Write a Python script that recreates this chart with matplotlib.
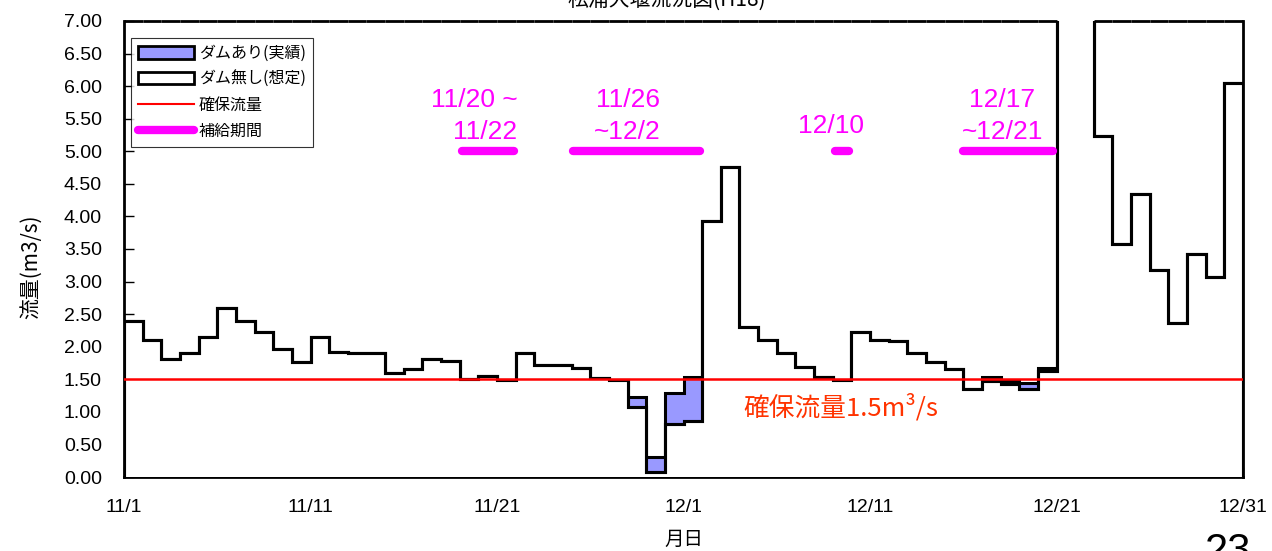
import matplotlib
matplotlib.use("Agg")
import matplotlib.pyplot as plt
from matplotlib.patches import Patch
from matplotlib.lines import Line2D
import numpy as np

plt.rcParams['font.family'] = ['Liberation Sans', 'Noto Sans CJK JP', 'DejaVu Sans']

# Daily flow 11/1 .. 12/30 (m3/s)
nashi = [2.40, 2.10, 1.81, 1.91, 2.15, 2.60, 2.40, 2.23, 1.96, 1.77,
         2.15, 1.92, 1.90, 1.90, 1.59, 1.66, 1.81, 1.78, 1.50, 1.55,
         1.49, 1.91, 1.72, 1.72, 1.67, 1.52, 1.49, 1.08, 0.07, 0.82,
         0.86, 3.93, 4.76, 2.30, 2.11, 1.91, 1.69, 1.54, 1.49, 2.22,
         2.11, 2.09, 1.90, 1.77, 1.66, 1.35, 1.47, 1.43, 1.35, 1.63,
         9.00, 8.00, 5.23, 3.58, 4.34, 3.17, 2.36, 3.43, 3.07, 6.05]
ari = [2.40, 2.10, 1.81, 1.91, 2.15, 2.60, 2.40, 2.23, 1.96, 1.77,
       2.15, 1.92, 1.90, 1.90, 1.59, 1.66, 1.81, 1.78, 1.50, 1.55,
       1.49, 1.91, 1.72, 1.72, 1.67, 1.52, 1.49, 1.23, 0.30, 1.29,
       1.54, 3.93, 4.76, 2.30, 2.11, 1.91, 1.69, 1.54, 1.49, 2.22,
       2.11, 2.09, 1.90, 1.77, 1.66, 1.35, 1.53, 1.48, 1.44, 1.67,
       9.00, 8.00, 5.23, 3.58, 4.34, 3.17, 2.36, 3.43, 3.07, 6.05]
kakuho = 1.5

xtick_labels = ['11/1', '11/11', '11/21', '12/1', '12/11', '12/21', '12/31']

# supply periods (day index from 11/1)
supply_x0 = [18.1, 24.1, 38.1, 45.0]
supply_x1 = [20.9, 30.9, 38.9, 49.8]
supply_level = 5.0
supply_text = [['11/20 ~', '11/22'], ['11/26', '~12/2'], ['12/10'], ['12/17', '~12/21']]
supply_text_x = [21.1, 27.0, 37.9, 47.1]
supply_text_ha = ['right', 'center', 'center', 'center']

YMAX = 7.0
nashi = np.array(nashi)
ari = np.array(ari)
edges = np.arange(len(nashi) + 1)

fig = plt.figure(figsize=(12.72, 5.51), dpi=100)
ax = fig.add_axes([0.0975, 0.1343, 0.8797, 0.8276])

# with dam (blue) behind, without dam (white) in front
ax.stairs(ari, edges, baseline=0, fill=True, facecolor='#9999ff',
          edgecolor='black', lw=2.2, zorder=3)
ax.stairs(nashi, edges, baseline=0, fill=True, facecolor='white',
          edgecolor='black', lw=2.2, zorder=3)
ax.stairs(nashi, edges, baseline=0, fill=False, color='black', lw=2.2, zorder=4)
ax.axhline(kakuho, color='red', lw=1.8, zorder=5)

for x0, x1 in zip(supply_x0, supply_x1):
    ax.plot([x0, x1], [supply_level, supply_level], color='#ff00ff', lw=6,
            solid_capstyle='round', zorder=6)

for lines, tx, ha in zip(supply_text, supply_text_x, supply_text_ha):
    if len(lines) == 1:
        ax.text(tx, 5.39, lines[0], color='#ff00ff', fontsize=19, ha=ha, va='center')
    else:
        ax.text(tx, 5.79, lines[0], color='#ff00ff', fontsize=19, ha=ha, va='center')
        ax.text(tx, 5.30, lines[1], color='#ff00ff', fontsize=19, ha=ha, va='center')

ax.text(33.2, 1.07, '確保流量1.5m³/s', color='#ff3300', fontsize=18.5,
        ha='left', va='center', family=['Noto Sans CJK JP', 'DejaVu Sans'])

ax.set_xlim(0, 60)
ax.set_ylim(0, YMAX)
ax.set_xticks(np.arange(0, 61, 10))
ax.set_xticklabels(xtick_labels)
ax.set_xticks(np.arange(0, 61, 1), minor=True)
ax.set_yticks(np.arange(0, 7.01, 0.5))
ax.set_yticklabels(['%.2f' % v for v in np.arange(0, 7.01, 0.5)])
ax.tick_params(axis='both', which='major', direction='in', length=7, width=1,
               labelsize=14)
ax.tick_params(axis='x', which='major', pad=16)
ax.tick_params(axis='y', which='major', pad=16)
ax.tick_params(axis='x', which='minor', direction='in', length=5, width=0.8)

for s in ax.spines.values():
    s.set_linewidth(2)
# top frame is hidden where the no-dam flow runs off the chart
ax.spines['top'].set_visible(False)
mask = nashi < YMAX
ax.hlines(np.full(mask.sum(), YMAX), edges[:-1][mask], edges[1:][mask],
          color='black', lw=2, clip_on=False, zorder=6)

ax.set_ylabel('流量(m3/s)', fontsize=15, family=['Noto Sans CJK JP'])
ax.yaxis.set_label_coords(-0.073, 0.46)
ax.set_xlabel('月日', fontsize=14, family=['Noto Sans CJK JP'], labelpad=9)

handles = [Patch(facecolor='#9999ff', edgecolor='black', lw=2),
           Patch(facecolor='white', edgecolor='black', lw=2),
           Line2D([], [], color='red', lw=1.5),
           Line2D([], [], color='#ff00ff', lw=6, solid_capstyle='round')]
labels = ['ダムあり(実績)', 'ダム無し(想定)', '確保流量', '補給期間']
leg = ax.legend(handles, labels, loc='upper left', bbox_to_anchor=(0.006, 0.963),
                prop={'family': 'Noto Sans CJK JP', 'size': 11.5}, frameon=True,
                fancybox=False, edgecolor='black', handlelength=3.5,
                handleheight=0.8, labelspacing=0.55, borderpad=0.45,
                handletextpad=0.3, borderaxespad=0)
leg.get_frame().set_linewidth(0.8)
leg.set_zorder(10)

fig.text(667 / 1272, 1.0, '松浦大堰流況図(H18)', fontsize=15, ha='center', va='center',
         family=['Noto Sans CJK JP', 'DejaVu Sans'])
fig.text(1228 / 1272, 1 - 532 / 551, '23', fontsize=30, ha='center', va='top')

fig.savefig('out.png', dpi=100)
